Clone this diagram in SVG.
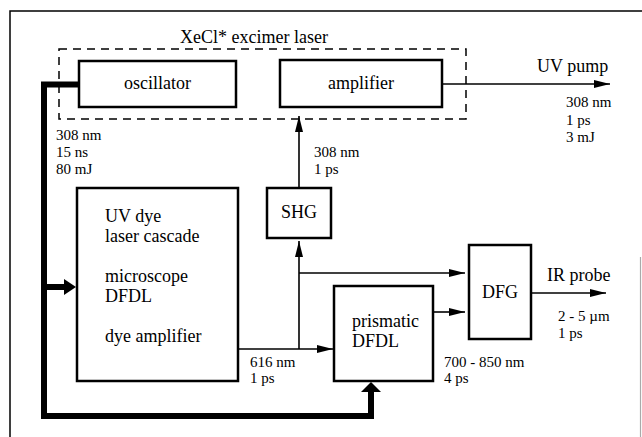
<svg xmlns="http://www.w3.org/2000/svg" width="642" height="437" viewBox="0 0 642 437">
<style>
text{fill:#000}
.big{font-size:18px}
.sm{font-size:15px}
.box{fill:#fff;stroke:#000;stroke-width:2.5}
.thin{fill:none;stroke:#000;stroke-width:1.6}
.thick{fill:none;stroke:#000;stroke-width:6}
</style>
<defs>
<marker id="ah" markerUnits="userSpaceOnUse" markerWidth="16" markerHeight="8" refX="16" refY="4" orient="auto">
<path d="M0,0 L16,4 L0,8 z" fill="#000"/>
</marker>
</defs>
<rect width="642" height="437" fill="#fff"/>
<g id="frame">
<path d="M10,437 L10,11 L642,11" fill="none" stroke="#000" stroke-width="1.5"/>
<line x1="640.5" y1="257" x2="640.5" y2="437" stroke="#aaa" stroke-width="1.2"/>
</g>
<g font-family="'Liberation Serif', 'DejaVu Serif', serif">
<g id="excimer">
<rect x="59" y="49" width="407" height="70" fill="none" stroke="#000" stroke-width="1.5" stroke-dasharray="8,6"/>
<text class="big" x="180" y="43">XeCl* excimer laser</text>
</g>
<g id="connectors">
<path class="thick" d="M79,84.5 L44,84.5 L44,416 L371,416 L371,391"/>
<polygon points="361,392 381,392 371,382" fill="#000"/>
<line class="thick" x1="44" y1="287" x2="66" y2="287"/>
<polygon points="64,279 64,295 76,287" fill="#000"/>
<line class="thin" x1="442" y1="84" x2="610" y2="84" marker-end="url(#ah)"/>
<line class="thin" x1="299" y1="188" x2="299" y2="116" marker-end="url(#ah)"/>
<line class="thin" x1="238" y1="349" x2="333" y2="349" marker-end="url(#ah)"/>
<line class="thin" x1="299" y1="349" x2="299" y2="241" marker-end="url(#ah)"/>
<line class="thin" x1="299" y1="273" x2="465" y2="273" marker-end="url(#ah)"/>
<line class="thin" x1="433" y1="312" x2="465" y2="312" marker-end="url(#ah)"/>
<line class="thin" x1="531" y1="293" x2="606" y2="293" marker-end="url(#ah)"/>
</g>
<g id="oscillator">
<rect class="box" x="79" y="61" width="157" height="46" stroke-width="3"/>
<text class="big" x="157.5" y="89" text-anchor="middle">oscillator</text>
</g>
<g id="amplifier">
<rect class="box" x="280" y="60" width="162" height="47"/>
<text class="big" x="361" y="89" text-anchor="middle">amplifier</text>
</g>
<g id="uvdye">
<rect class="box" x="77" y="188" width="161" height="193"/>
<text class="big" x="105" y="222">UV dye</text>
<text class="big" x="105" y="242">laser cascade</text>
<text class="big" x="105" y="282">microscope</text>
<text class="big" x="105" y="302">DFDL</text>
<text class="big" x="105" y="342">dye amplifier</text>
</g>
<g id="shg">
<rect class="box" x="267" y="188" width="64" height="50"/>
<text class="big" x="299" y="218" text-anchor="middle">SHG</text>
</g>
<g id="prismatic">
<rect class="box" x="334" y="286" width="99" height="95"/>
<text class="big" x="352" y="327">prismatic</text>
<text class="big" x="352" y="347">DFDL</text>
</g>
<g id="dfg">
<rect class="box" x="469" y="245" width="62" height="94"/>
<text class="big" x="500" y="298" text-anchor="middle">DFG</text>
</g>
<g id="labels">
<text class="big" x="537" y="72">UV pump</text>
<text class="sm" x="566" y="107">308 nm</text>
<text class="sm" x="566" y="124.5">1 ps</text>
<text class="sm" x="566" y="142">3 mJ</text>
<text class="sm" x="56" y="140">308 nm</text>
<text class="sm" x="56" y="157">15 ns</text>
<text class="sm" x="56" y="174">80 mJ</text>
<text class="sm" x="314" y="157">308 nm</text>
<text class="sm" x="314" y="174">1 ps</text>
<text class="sm" x="250" y="367">616 nm</text>
<text class="sm" x="250" y="383">1 ps</text>
<text class="sm" x="444" y="367">700 - 850 nm</text>
<text class="sm" x="444" y="383">4 ps</text>
<text class="big" x="547" y="281">IR probe</text>
<text class="sm" x="558" y="321">2 - 5 µm</text>
<text class="sm" x="558" y="338">1 ps</text>
</g>
</g>
</svg>
